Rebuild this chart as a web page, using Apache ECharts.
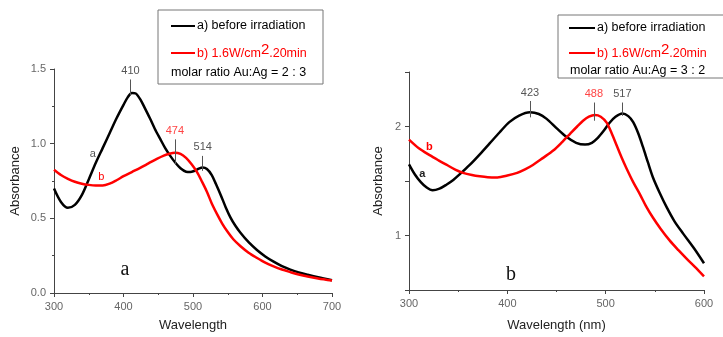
<!DOCTYPE html>
<html>
<head>
<meta charset="utf-8">
<script src="https://cdn.jsdelivr.net/npm/echarts@6/dist/echarts.min.js"></script>
<style>
  html, body { margin: 0; padding: 0; background: #fff; }
  #chart { width: 723px; height: 337px; }
</style>
</head>
<body>
<div id="chart"></div>
<script>
// panel a: molar ratio Au:Ag = 2 : 3
const aBeforeX = [300, 310, 320, 330, 340, 350, 360, 370, 380, 390, 400, 406, 412, 418, 425, 430, 438, 445, 453, 460, 467, 475, 482, 490, 496, 502, 508, 514, 520, 527, 533, 540, 547, 554, 561, 568, 580, 592, 604, 616, 628, 640, 652, 665, 680, 700];
const aBeforeY = [0.70, 0.61, 0.571, 0.59, 0.655, 0.76, 0.87, 0.97, 1.07, 1.17, 1.26, 1.31, 1.34, 1.335, 1.29, 1.245, 1.17, 1.10, 1.03, 0.97, 0.92, 0.87, 0.835, 0.812, 0.81, 0.818, 0.832, 0.84, 0.83, 0.79, 0.73, 0.655, 0.575, 0.505, 0.45, 0.405, 0.34, 0.288, 0.245, 0.21, 0.18, 0.157, 0.138, 0.122, 0.105, 0.085];
const aAfterX = [300, 310, 320, 330, 340, 350, 360, 370, 380, 390, 400, 412, 424, 436, 448, 458, 466, 474, 482, 490, 498, 506, 513, 520, 527, 535, 542, 549, 558, 568, 580, 592, 604, 616, 628, 640, 652, 665, 680, 700];
const aAfterY = [0.825, 0.79, 0.765, 0.745, 0.732, 0.724, 0.72, 0.72, 0.732, 0.755, 0.782, 0.81, 0.838, 0.868, 0.898, 0.92, 0.933, 0.94, 0.932, 0.905, 0.862, 0.808, 0.745, 0.678, 0.60, 0.525, 0.465, 0.415, 0.36, 0.315, 0.27, 0.235, 0.203, 0.178, 0.157, 0.14, 0.124, 0.11, 0.097, 0.083];

// panel b: molar ratio Au:Ag = 3 : 2
const bBeforeX = [300, 306, 312, 318, 324, 331, 338, 345, 352, 362, 372, 382, 392, 402, 412, 423, 432, 440, 450, 460, 470, 479, 486, 492, 498, 504, 510, 517, 523, 528, 533, 538, 543, 548, 555, 562, 570, 579, 590, 600];
const bBeforeY = [1.653, 1.56, 1.49, 1.44, 1.415, 1.43, 1.466, 1.51, 1.565, 1.65, 1.745, 1.845, 1.945, 2.04, 2.10, 2.13, 2.115, 2.07, 1.985, 1.905, 1.85, 1.834, 1.85, 1.895, 1.96, 2.035, 2.09, 2.12, 2.095, 2.04, 1.94, 1.81, 1.67, 1.535, 1.39, 1.26, 1.13, 1.015, 0.88, 0.745];
const bAfterX = [300, 310, 321, 330, 338, 347, 355, 364, 372, 380, 390, 400, 410, 418, 426, 436, 447, 456, 464, 471, 477, 483, 489, 495, 501, 506, 511, 516, 521, 528, 535, 541, 548, 556, 565, 574, 582, 591, 600];
const bAfterY = [1.879, 1.80, 1.737, 1.69, 1.65, 1.605, 1.575, 1.555, 1.543, 1.535, 1.533, 1.55, 1.575, 1.607, 1.647, 1.71, 1.782, 1.86, 1.935, 2.0, 2.053, 2.09, 2.105, 2.09, 2.035, 1.94, 1.83, 1.72, 1.62, 1.49, 1.375, 1.27, 1.165, 1.06, 0.955, 0.865, 0.79, 0.71, 0.625];

// peak annotations: [wavelength, bottom of tick, top of tick]
const aBeforePeaks = [[410, 1.32, 1.43], [514, 0.818, 0.918]];
const aAfterPeaks = [[474, 0.863, 1.029]];
const bBeforePeaks = [[423, 2.084, 2.234], [517, 2.098, 2.22]];
const bAfterPeaks = [[488, 2.053, 2.22]];

// curve letters
const aCurveTags = [["a", 356, 0.93], ["b", 368, 0.775]];
const bCurveTags = [["a", 313.5, 1.563], ["b", 320.6, 1.813]];

const FONT = "Liberation Sans";

function zip(xs, ys) {
  return xs.map((x, i) => [x, ys[i]]);
}

function peakLines(peaks, color) {
  return {
    silent: true,
    symbol: ["none", "none"],
    lineStyle: { color: "#555", width: 1, type: "solid" },
    label: { show: true, position: "end", distance: 3, color: color, fontSize: 11, fontFamily: FONT, formatter: p => p.data.value },
    emphasis: { disabled: true },
    data: peaks.map(p => [{ coord: [p[0], p[1]], value: p[0] }, { coord: [p[0], p[2]] }])
  };
}

function tagPoint(tag, color, bold) {
  return {
    symbol: "circle",
    symbolSize: 0,
    silent: true,
    label: { show: true, position: "inside", color: color, fontSize: 11, fontWeight: bold ? "bold" : "normal", fontFamily: FONT, formatter: p => p.name },
    data: [{ name: tag[0], coord: [tag[1], tag[2]] }]
  };
}

function curve(name, xs, ys, color, idx, peaks, peakColor, tag, bold) {
  return {
    name: name,
    type: "line",
    xAxisIndex: idx,
    yAxisIndex: idx,
    data: zip(xs, ys),
    smooth: 0.3,
    showSymbol: false,
    lineStyle: { color: color, width: 2.5 },
    itemStyle: { color: color },
    markLine: peakLines(peaks, peakColor),
    markPoint: tagPoint(tag, tag[0] === "a" ? (bold ? "#222" : "#555") : "#f00", bold)
  };
}

const axisCommon = {
  type: "value",
  axisLine: { show: true, onZero: false, lineStyle: { color: "#444", width: 1 } },
  axisTick: { show: true, length: 4, lineStyle: { color: "#444" } },
  minorTick: { show: true, splitNumber: 2, length: 2, lineStyle: { color: "#444" } },
  splitLine: { show: false },
  axisLabel: { color: "#666", fontSize: 11, fontFamily: FONT },
  nameLocation: "middle",
  nameTextStyle: { color: "#222", fontSize: 13, fontFamily: FONT }
};

function legendBox(x, y, w, h, rows, ratio) {
  return [
    { type: "rect", shape: { x: x, y: y, width: w, height: h }, style: { fill: "#fff", stroke: "#777", lineWidth: 1 } },
    { type: "line", shape: { x1: x + rows.lx1, y1: y + rows.y1, x2: x + rows.lx2, y2: y + rows.y1 }, style: { stroke: "#000", lineWidth: 2 } },
    { type: "line", shape: { x1: x + rows.lx1, y1: y + rows.y2, x2: x + rows.lx2, y2: y + rows.y2 }, style: { stroke: "#f00", lineWidth: 2 } },
    { type: "text", x: x + rows.lx2 + 2, y: y + rows.y1, style: { text: "a) before irradiation", fill: "#000", font: "12.5px " + FONT, verticalAlign: "middle" } },
    { type: "text", x: x + rows.lx2 + 2, y: y + rows.y2 - 2, style: {
        text: "{n|b) 1.6W/cm}{s|2}{n|.20min}",
        verticalAlign: "middle",
        rich: {
          n: { fill: "#f00", fontSize: 12.5, fontFamily: FONT, verticalAlign: "bottom", lineHeight: 18, padding: [6, 0, 0, 0] },
          s: { fill: "#f00", fontSize: 15, fontFamily: FONT, verticalAlign: "top", lineHeight: 18 }
        } } },
    { type: "text", x: x + rows.tx3, y: y + rows.y3, style: { text: "molar ratio Au:Ag = " + ratio, fill: "#000", font: "12.5px " + FONT, verticalAlign: "middle" } }
  ];
}

const chart = echarts.init(document.getElementById("chart"));
chart.setOption({
  animation: false,
  backgroundColor: "#fff",
  grid: [
    { left: 54, right: 391, top: 69, bottom: 42 },
    { left: 409, right: 19, top: 72, bottom: 44 }
  ],
  xAxis: [
    Object.assign({}, axisCommon, { gridIndex: 0, min: 300, max: 700, interval: 100, name: "Wavelength", nameGap: 26 }),
    Object.assign({}, axisCommon, { gridIndex: 1, min: 300, max: 600, interval: 100, name: "Wavelength (nm)", nameGap: 29 })
  ],
  yAxis: [
    Object.assign({}, axisCommon, { gridIndex: 0, min: 0, max: 1.5, interval: 0.5, name: "Absorbance", nameGap: 32,
      axisLabel: Object.assign({}, axisCommon.axisLabel, { formatter: v => v.toFixed(1) }) }),
    Object.assign({}, axisCommon, { gridIndex: 1, min: 0.5, max: 2.5, interval: 0.5, name: "Absorbance", nameGap: 24,
      minorTick: { show: false },
      axisLabel: Object.assign({}, axisCommon.axisLabel, { formatter: v => Number.isInteger(v) ? String(v) : "" }) })
  ],
  series: [
    curve("a) before irradiation", aBeforeX, aBeforeY, "#000", 0, aBeforePeaks, "#555", aCurveTags[0], false),
    curve("b) 1.6W/cm2.20min", aAfterX, aAfterY, "#f00", 0, aAfterPeaks, "#f44", aCurveTags[1], false),
    curve("a) before irradiation", bBeforeX, bBeforeY, "#000", 1, bBeforePeaks, "#555", bCurveTags[0], true),
    curve("b) 1.6W/cm2.20min", bAfterX, bAfterY, "#f00", 1, bAfterPeaks, "#f44", bCurveTags[1], true)
  ],
  graphic: [].concat(
    legendBox(158, 10, 165, 74, { lx1: 13, lx2: 37, y1: 16, y2: 43, y3: 63, tx3: 13 }, "2 : 3"),
    legendBox(558, 15, 170, 63, { lx1: 11, lx2: 37, y1: 13, y2: 38, y3: 56, tx3: 12 }, "3 : 2"),
    [
      { type: "text", x: 125, y: 270, style: { text: "a", fill: "#111", font: "20px Liberation Serif", align: "center", verticalAlign: "middle" } },
      { type: "text", x: 511, y: 275, style: { text: "b", fill: "#111", font: "20px Liberation Serif", align: "center", verticalAlign: "middle" } }
    ]
  )
});
</script>
</body>
</html>
